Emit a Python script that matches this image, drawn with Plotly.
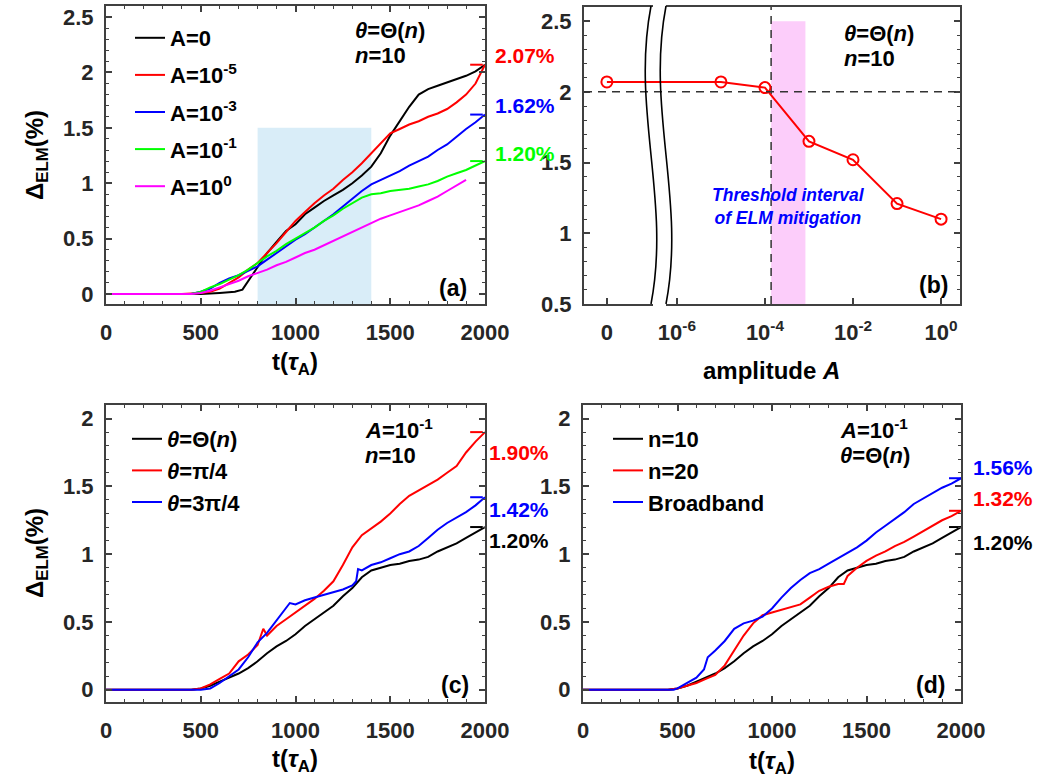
import plotly.graph_objects as go

# ---------------- data ----------------
# panel (a): Delta_ELM(%) vs t for several amplitudes A (theta = Theta(n), n = 10)
t_a_A0 = [0, 400, 500, 600, 680, 720, 760, 800, 850, 900, 950, 1000, 1050, 1100, 1150, 1200, 1250, 1300,
          1350, 1400, 1450, 1500, 1550, 1600, 1650, 1700, 1750, 1800, 1850, 1900, 1950, 2000]
d_a_A0 = [0, 0, 0.0, 0.01, 0.02, 0.04, 0.14, 0.25, 0.37, 0.47, 0.57, 0.63, 0.72, 0.78, 0.84, 0.89, 0.94, 1.00,
          1.07, 1.15, 1.27, 1.43, 1.56, 1.69, 1.80, 1.85, 1.88, 1.91, 1.94, 1.97, 2.01, 2.07]

t_a_A5 = [0, 400, 500, 550, 600, 650, 700, 750, 800, 850, 900, 950, 1000, 1050, 1100, 1150, 1200, 1250,
          1300, 1350, 1400, 1450, 1500, 1550, 1600, 1650, 1700, 1750, 1800, 1850, 1900, 1950, 2000]
d_a_A5 = [0, 0, 0.01, 0.02, 0.05, 0.10, 0.15, 0.22, 0.28, 0.37, 0.46, 0.56, 0.66, 0.74, 0.82, 0.89, 0.95, 1.03,
          1.10, 1.18, 1.27, 1.36, 1.45, 1.49, 1.53, 1.56, 1.60, 1.63, 1.67, 1.73, 1.80, 1.90, 2.07]

t_a_A3 = [0, 450, 500, 550, 600, 650, 700, 750, 800, 850, 900, 950, 1000, 1050, 1100, 1150, 1200, 1250,
          1300, 1350, 1400, 1450, 1500, 1550, 1600, 1650, 1700, 1750, 1800, 1850, 1900, 1950, 2000]
d_a_A3 = [0, 0, 0.02, 0.05, 0.10, 0.14, 0.17, 0.21, 0.25, 0.31, 0.37, 0.43, 0.49, 0.54, 0.60, 0.66, 0.72, 0.79,
          0.86, 0.93, 0.99, 1.03, 1.07, 1.11, 1.16, 1.20, 1.24, 1.30, 1.35, 1.42, 1.49, 1.55, 1.62]

t_a_A1 = [0, 450, 500, 550, 600, 650, 700, 750, 800, 850, 900, 950, 1000, 1050, 1100, 1150, 1200, 1250,
          1300, 1350, 1400, 1450, 1500, 1550, 1600, 1650, 1700, 1750, 1800, 1850, 1900, 1950, 2000]
d_a_A1 = [0, 0, 0.02, 0.06, 0.09, 0.13, 0.17, 0.22, 0.28, 0.34, 0.39, 0.45, 0.50, 0.55, 0.60, 0.66, 0.71, 0.77,
          0.82, 0.87, 0.90, 0.91, 0.93, 0.94, 0.95, 0.97, 0.99, 1.02, 1.06, 1.09, 1.12, 1.16, 1.20]

t_a_A00 = [0, 450, 500, 550, 600, 650, 700, 750, 800, 850, 900, 950, 1000, 1050, 1100, 1150, 1200, 1250,
           1300, 1350, 1400, 1450, 1500, 1550, 1600, 1650, 1700, 1750, 1800, 1850, 1900]
d_a_A00 = [0, 0, 0.01, 0.03, 0.06, 0.09, 0.12, 0.16, 0.19, 0.22, 0.26, 0.29, 0.33, 0.37, 0.40, 0.44, 0.48, 0.52,
           0.56, 0.60, 0.64, 0.68, 0.71, 0.74, 0.77, 0.80, 0.84, 0.88, 0.93, 0.98, 1.03]

names_a = ["A=0", "A=10<sup>-5</sup>", "A=10<sup>-3</sup>", "A=10<sup>-1</sup>", "A=10<sup>0</sup>"]
final_a = [2.07, 1.62, 1.20]          # red, blue, green end values

# panel (b): final Delta_ELM vs amplitude A
amp_b = [0, 1e-5, 1e-4, 1e-3, 1e-2, 1e-1, 1e0]
delta_b = [2.07, 2.07, 2.03, 1.65, 1.52, 1.21, 1.10]
thr_level = 2.0
thr_band = [1.38e-4, 8.3e-4]
tick_b = ["0", "10<sup>-6</sup>", "10<sup>-4</sup>", "10<sup>-2</sup>", "10<sup>0</sup>"]

# panel (c): different theta (A = 0.1, n = 10)
t_c_base = [0, 450, 500, 550, 600, 650, 700, 750, 800, 850, 900, 950, 1000, 1050, 1100, 1150, 1200, 1250,
            1300, 1350, 1400, 1450, 1500, 1550, 1600, 1650, 1700, 1750, 1800, 1850, 1900, 1950, 2000]
d_c_base = [0, 0, 0.01, 0.03, 0.06, 0.09, 0.12, 0.16, 0.21, 0.27, 0.32, 0.36, 0.41, 0.47, 0.52, 0.57, 0.62, 0.69,
            0.75, 0.83, 0.88, 0.90, 0.92, 0.93, 0.95, 0.96, 0.98, 1.02, 1.05, 1.08, 1.12, 1.16, 1.20]

t_c_pi4 = [0, 450, 500, 550, 600, 650, 700, 750, 800, 830, 850, 900, 950, 1000, 1050, 1100, 1150, 1200, 1250,
           1300, 1350, 1400, 1450, 1500, 1550, 1600, 1650, 1700, 1750, 1800, 1850, 1900, 1950, 2000]
d_c_pi4 = [0, 0, 0.01, 0.04, 0.08, 0.12, 0.21, 0.26, 0.33, 0.45, 0.40, 0.47, 0.52, 0.57, 0.62, 0.67, 0.73, 0.80,
           0.92, 1.05, 1.14, 1.19, 1.24, 1.30, 1.37, 1.43, 1.47, 1.51, 1.55, 1.60, 1.65, 1.75, 1.83, 1.90]

t_c_3pi4 = [0, 500, 550, 600, 650, 700, 750, 800, 850, 900, 950, 970, 1000, 1050, 1100, 1150, 1200, 1250,
            1300, 1320, 1330, 1350, 1400, 1450, 1500, 1550, 1600, 1650, 1700, 1750, 1800, 1850, 1900, 1950, 2000]
d_c_3pi4 = [0, 0, 0.01, 0.05, 0.10, 0.15, 0.24, 0.35, 0.42, 0.51, 0.60, 0.64, 0.63, 0.66, 0.68, 0.70, 0.72, 0.74,
            0.77, 0.80, 0.89, 0.88, 0.92, 0.94, 0.97, 1.00, 1.02, 1.06, 1.12, 1.18, 1.23, 1.27, 1.31, 1.36, 1.42]

names_c = ["<i>θ</i>=Θ(<i>n</i>)", "<i>θ</i>=π/4", "<i>θ</i>=3π/4"]
final_c = [1.90, 1.42, 1.20]          # red, blue, black

# panel (d): different n (A = 0.1, theta = Theta(n))
t_d_n20 = [0, 450, 500, 550, 600, 650, 700, 750, 800, 850, 900, 950, 1000, 1050, 1100, 1150, 1200, 1250,
           1300, 1350, 1380, 1400, 1450, 1500, 1550, 1600, 1650, 1700, 1750, 1800, 1850, 1900, 1950, 2000]
d_d_n20 = [0, 0, 0.01, 0.03, 0.05, 0.08, 0.11, 0.18, 0.29, 0.40, 0.49, 0.55, 0.57, 0.59, 0.61, 0.63, 0.68, 0.73,
           0.76, 0.78, 0.78, 0.84, 0.90, 0.95, 0.99, 1.02, 1.06, 1.09, 1.13, 1.17, 1.21, 1.25, 1.28, 1.32]

t_d_bb = [0, 480, 500, 550, 600, 640, 660, 700, 750, 800, 850, 900, 950, 1000, 1050, 1100, 1150, 1200, 1250,
          1300, 1350, 1400, 1450, 1500, 1550, 1600, 1650, 1700, 1750, 1800, 1850, 1900, 1950, 2000]
d_d_bb = [0, 0, 0.01, 0.05, 0.09, 0.15, 0.24, 0.29, 0.36, 0.45, 0.49, 0.51, 0.54, 0.60, 0.68, 0.75, 0.81, 0.86,
          0.89, 0.93, 0.97, 1.01, 1.05, 1.10, 1.16, 1.21, 1.26, 1.31, 1.37, 1.41, 1.45, 1.49, 1.52, 1.56]

names_d = ["n=10", "n=20", "Broadband"]
final_d = [1.56, 1.32, 1.20]          # blue, red, black

# ---------------- styling ----------------
W, H = 1056, 782
FONT = "Liberation Sans"
INK = "#262626"
FRAME = "#404040"
ZERO_LOG = -7.59            # where A = 0 is placed on the broken log axis


def px(x):
    return x / W


def py(y):
    return 1 - y / H


fig = go.Figure()


def line(t, d, color, name, ax, legend=None, show=True, group=None):
    fig.add_trace(go.Scatter(x=t, y=d, mode="lines", name=name,
                             line=dict(color=color, width=2),
                             xaxis="x" + ax, yaxis="y" + ax, legendgroup=group,
                             legend=legend, showlegend=show, hoverinfo="skip"))


# shaded interval in (a)
fig.add_trace(go.Scatter(x=[800, 1400, 1400, 800], y=[-0.09, -0.09, 1.5, 1.5], fill="toself",
                         fillcolor="#d9edf8", line=dict(width=0), mode="lines",
                         xaxis="x", yaxis="y", showlegend=False, hoverinfo="skip"))

# panel (a)
for i, (t, d, c) in enumerate(zip([t_a_A0, t_a_A5, t_a_A3, t_a_A1, t_a_A00],
                                  [d_a_A0, d_a_A5, d_a_A3, d_a_A1, d_a_A00],
                                  ["#000000", "#ff0000", "#0000ff", "#00ff00", "#ff00ff"])):
    line(t, d, c, names_a[i], "", "legend", group=f"a{i}")

# panel (b)
fig.add_trace(go.Scatter(x=[thr_band[0], thr_band[1], thr_band[1], thr_band[0]], y=[0.5, 0.5, 2.5, 2.5],
                         fill="toself", fillcolor="#fccdfa", line=dict(width=0), mode="lines",
                         xaxis="x2", yaxis="y2", showlegend=False, hoverinfo="skip"))
fig.add_trace(go.Scatter(x=[thr_band[0], thr_band[0]], y=[0.5, 2.6], mode="lines",
                         line=dict(color="#333333", width=1.5, dash="8px,6px"),
                         xaxis="x2", yaxis="y2", showlegend=False, hoverinfo="skip"))
amp_pos = [a if a > 0 else 10 ** ZERO_LOG for a in amp_b]
fig.add_trace(go.Scatter(x=amp_pos, y=delta_b, mode="lines+markers",
                         line=dict(color="#ff0000", width=2),
                         marker=dict(symbol="circle-open", size=11, color="#ff0000", line=dict(width=2)),
                         xaxis="x2", yaxis="y2", showlegend=False, hoverinfo="skip"))

# panel (c)
line(t_c_base, d_c_base, "#000000", names_c[0], "3", "legend2")
line(t_c_pi4, d_c_pi4, "#ff0000", names_c[1], "3", "legend2")
line(t_c_3pi4, d_c_3pi4, "#0000ff", names_c[2], "3", "legend2")

# panel (d)
line(t_c_base, d_c_base, "#000000", names_d[0], "4", "legend3")
line(t_d_n20, d_d_n20, "#ff0000", names_d[1], "4", "legend3")
line(t_d_bb, d_d_bb, "#0000ff", names_d[2], "4", "legend3")


# end-value marks ("- -" straddling the right border)
def endmark(v, color, ax, xs):
    fig.add_trace(go.Scatter(x=xs, y=[v, v], mode="markers", cliponaxis=False,
                             marker=dict(symbol="line-ew-open", size=9, color=color,
                                         line=dict(color=color, width=2)),
                             xaxis="x" + ax, yaxis="y" + ax, showlegend=False, hoverinfo="skip"))


annotations = []


def note(text, x, y, size=20, color="black", xanchor="center", yanchor="middle", bold=True,
         italic=False, angle=0, xref="paper", yref="paper", xshift=0, yshift=0):
    annotations.append(dict(text=text, x=x, y=y, xref=xref, yref=yref, showarrow=False,
                            xanchor=xanchor, yanchor=yanchor, textangle=angle,
                            xshift=xshift, yshift=yshift,
                            font=dict(family=FONT, size=size, color=color,
                                      weight="bold" if bold else "normal",
                                      style="italic" if italic else "normal")))


for v, c, s in zip(final_a, ["#ff0000", "#0000ff", "#00ff00"], [9, 9, 8]):
    endmark(v, c, "", [1955, 2140])
    note(f"{v:.2f}%", 2000, v, size=21, color=c, xanchor="left", xref="x", yref="y", xshift=8, yshift=s)
for v, c, s in zip(final_c, ["#ff0000", "#0000ff", "#000000"], [-20, -12, -13]):
    endmark(v, c, "3", [1955, 2140])
    note(f"{v:.2f}%", 2000, v, size=21, color=c, xanchor="left", xref="x3", yref="y3", xshift=2, yshift=s)
for v, c, s in zip(final_d, ["#0000ff", "#ff0000", "#000000"], [11, 12, -15]):
    endmark(v, c, "4", [1970, 2160])
    note(f"{v:.2f}%", 2000, v, size=21, color=c, xanchor="left", xref="x4", yref="y4", xshift=10, yshift=s)

# parameter texts
TH = "<i>θ</i>=Θ(<i>n</i>)"
note(TH, px(353), py(31), size=22, xanchor="left")
note("<i>n</i>=10", px(353), py(55), size=22, xanchor="left")
note(TH, px(842), py(34), size=22, xanchor="left")
note("<i>n</i>=10", px(842), py(58), size=22, xanchor="left")
note("<i>A</i>=10<sup>-1</sup>", px(363), py(429), size=22, xanchor="left")
note("<i>n</i>=10", px(363), py(455), size=22, xanchor="left")
note("<i>A</i>=10<sup>-1</sup>", px(838), py(429), size=22, xanchor="left")
note(TH, px(838), py(455), size=22, xanchor="left")

# panel letters
note("(a)", px(453), py(288), size=23)
note("(b)", px(933), py(285), size=23)
note("(c)", px(455), py(685), size=23)
note("(d)", px(930), py(685), size=23)

# threshold text
note("Threshold interval<br>of ELM mitigation", px(710), py(207), size=17.5, color="#0000ff",
     xanchor="left", italic=True)

# axis titles
YT = "Δ<sub>ELM</sub>(%)"
XT = "t(<i>τ</i><sub>A</sub>)"
note(YT, px(36), py(155), size=24, angle=-90)
note(YT, px(36), py(553), size=24, angle=-90)
note(XT, px(295), py(363), size=24)
note(XT, px(295), py(760), size=24)
note(XT, px(772), py(762), size=24)
note("amplitude <i>A</i>", px(771), py(370), size=24)

# ---------------- axes ----------------
tickfont = dict(family=FONT, size=22, color=INK, weight="bold")


def xax(domain, anchor, rng, **kw):
    d = dict(domain=domain, anchor=anchor, range=rng, showgrid=False, zeroline=False,
             showline=True, linecolor=FRAME, linewidth=2, mirror="ticks",
             ticks="inside", ticklen=6, tickwidth=1.5, tickcolor=FRAME,
             tickfont=tickfont, ticklabelstandoff=8, automargin=False,
             dtick=500, tick0=0,
             minor=dict(ticks="inside", ticklen=3, tickwidth=1.2, tickcolor=FRAME, dtick=100, tick0=0))
    d.update(kw)
    return d


def yax(domain, anchor, rng, **kw):
    d = dict(domain=domain, anchor=anchor, range=rng, showgrid=False, zeroline=False,
             showline=True, linecolor=FRAME, linewidth=2, mirror="ticks",
             ticks="inside", ticklen=6, tickwidth=1.5, tickcolor=FRAME,
             tickfont=tickfont, ticklabelstandoff=6, automargin=False,
             dtick=0.5, tick0=0,
             minor=dict(ticks="inside", ticklen=3, tickwidth=1.2, tickcolor=FRAME, dtick=0.1, tick0=0))
    d.update(kw)
    return d


XL = [px(106), px(485)]
XR = [px(584), px(960)]
YT_ = [py(304), py(6)]
YB_ = [py(702), py(405)]
LEGFONT = dict(family=FONT, size=22, color="black", weight="bold")

layout = dict(
    width=W, height=H, margin=dict(l=0, r=0, t=0, b=0),
    paper_bgcolor="white", plot_bgcolor="white",
    font=dict(family=FONT, color="black"),
    xaxis=xax(XL, "y", [0, 2000]),
    yaxis=yax(YT_, "x", [-0.09, 2.6]),
    xaxis2=dict(domain=XR, anchor="y2", type="log", range=[-8.11, 0.43], showgrid=False, zeroline=False,
                showline=True, linecolor=FRAME, linewidth=2, mirror=True,
                ticks="inside", ticklen=6, tickwidth=1.5, tickcolor=FRAME,
                tickmode="array", tickvals=[10 ** ZERO_LOG, 1e-6, 1e-4, 1e-2, 1e0], ticktext=tick_b,
                tickfont=tickfont, ticklabelstandoff=8, automargin=False),
    yaxis2=yax([py(304), py(7)], "x2", [0.5, 2.6]),
    xaxis3=xax(XL, "y3", [0, 2000]),
    yaxis3=yax(YB_, "x3", [-0.09, 2.1]),
    xaxis4=xax([px(583), px(961)], "y4", [0, 2000]),
    yaxis4=yax(YB_, "x4", [-0.09, 2.1]),
    legend=dict(x=px(130), y=py(17), xanchor="left", yanchor="top", bgcolor="rgba(0,0,0,0)",
                font=LEGFONT, tracegroupgap=5.5, itemwidth=30),
    legend2=dict(x=px(127), y=py(418), xanchor="left", yanchor="top", bgcolor="rgba(0,0,0,0)",
                 font=LEGFONT, itemwidth=30),
    legend3=dict(x=px(608), y=py(418), xanchor="left", yanchor="top", bgcolor="rgba(0,0,0,0)",
                 font=LEGFONT, itemwidth=30),
    annotations=annotations,
)
fig.update_layout(**layout)

# horizontal dashed reference line in (b)
shapes = [dict(type="line", xref="x2 domain", x0=0, x1=1, yref="y2", y0=thr_level, y1=thr_level,
               line=dict(color="#333333", width=1.5, dash="8px,6px"), layer="above")]


# axis break in (b)
def pth(pts):
    s = "M {:.5f},{:.5f} C {:.5f},{:.5f} {:.5f},{:.5f} {:.5f},{:.5f}"
    flat = []
    for a, b in pts:
        flat += [px(a), py(b)]
    return s.format(*flat)


for yy0, yy1 in [(2, 10), (300, 309)]:
    shapes.append(dict(type="rect", xref="paper", yref="paper", x0=px(653), x1=px(666),
                       y0=py(yy1), y1=py(yy0), fillcolor="white", line=dict(width=0), layer="above"))
for off in [0, 15]:
    pts = [(651 + off, 6), (631 + off, 110), (671 + off, 200), (651 + off, 304)]
    shapes.append(dict(type="path", xref="paper", yref="paper", path=pth(pts),
                       line=dict(color="black", width=1.6), layer="above"))
fig.update_layout(shapes=shapes)

fig.write_html("out.html")
